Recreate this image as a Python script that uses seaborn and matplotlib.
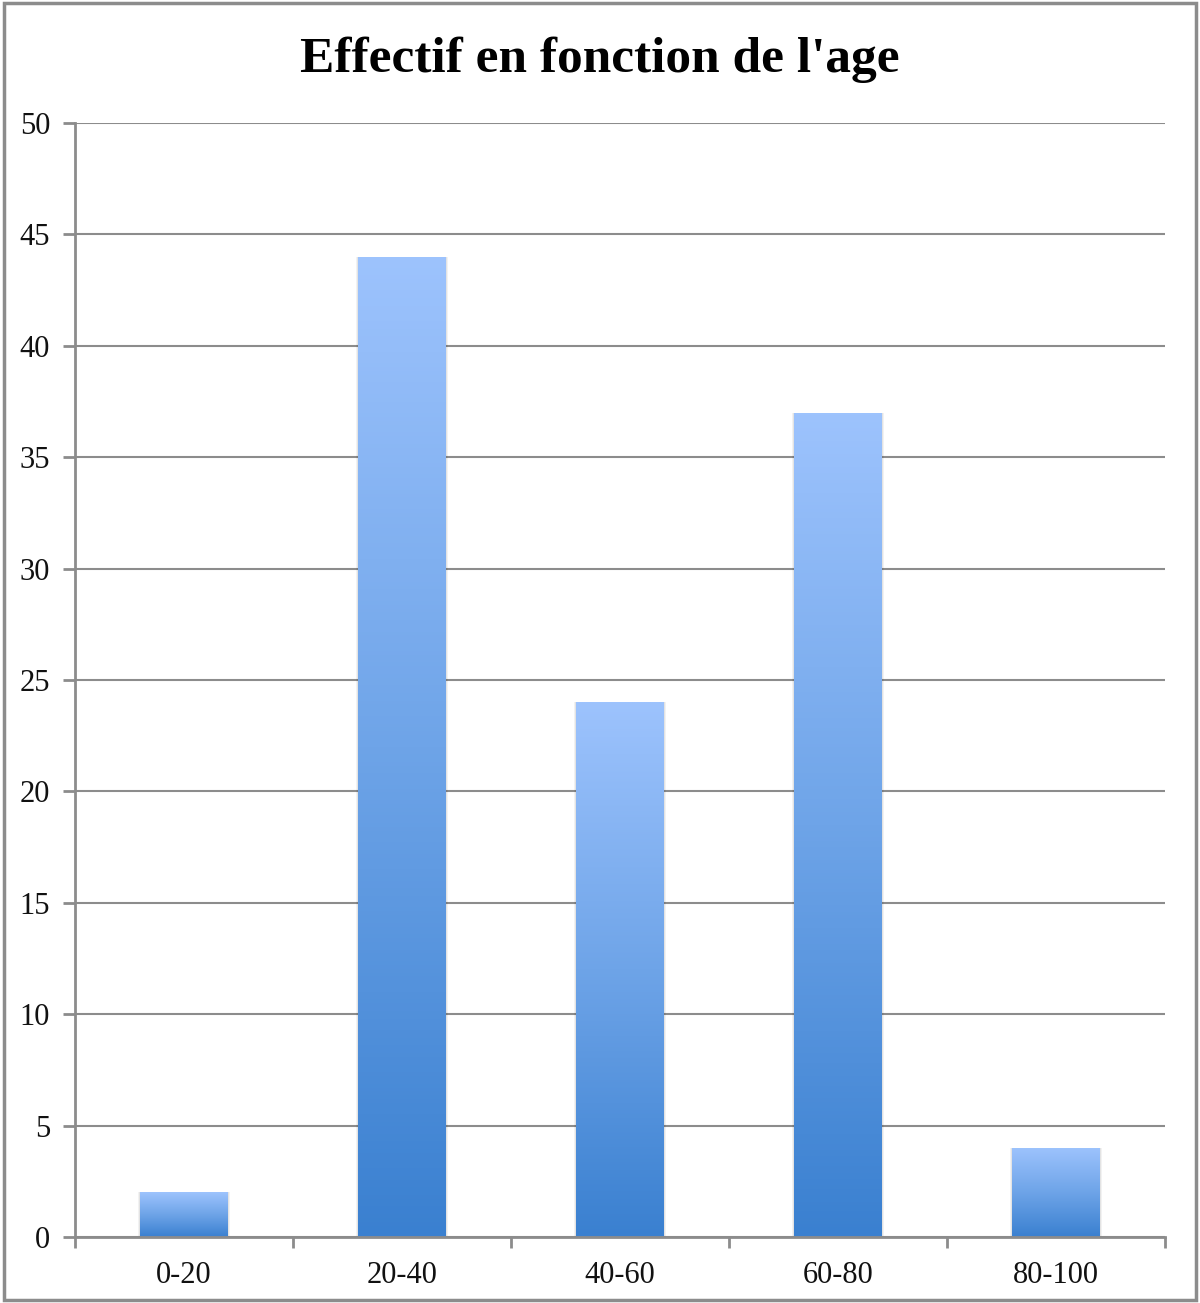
import numpy as np
import pandas as pd
import matplotlib
matplotlib.use("Agg")
import matplotlib.pyplot as plt
import seaborn as sns
from matplotlib.colors import LinearSegmentedColormap
from matplotlib.patches import Rectangle

categories = ["0-20", "20-40", "40-60", "60-80", "80-100"]
values = [2, 44, 24, 37, 4]
yticks = list(range(0, 51, 5))
title = "Effectif en fonction de l'age"

sns.set_theme(style="white")
plt.rcParams['font.family'] = ['Liberation Serif', 'DejaVu Serif']

fig = plt.figure(figsize=(12, 13.03), dpi=100)
ax = fig.add_axes([0.0625, 0.0507, 0.9083, 0.8549])

df = pd.DataFrame({"age": categories, "effectif": values})
sns.barplot(data=df, x="age", y="effectif", ax=ax, width=0.4, color="#8fb8f5",
            saturation=1, zorder=3)

ax.set_ylim(0, 50)
ax.set_xlim(-0.5, len(categories) - 0.5)

cmap = LinearSegmentedColormap.from_list("g", ["#3a80d0", "#6ea4e8", "#9dc3fd"])
grad = np.linspace(0, 1, 256).reshape(-1, 1)
for p in list(ax.patches):
    x0, y0 = p.get_x(), p.get_y()
    w, h = p.get_width(), p.get_height()
    for k, a in [(0.010, 0.05), (0.005, 0.06)]:
        sh = Rectangle((x0 - k, y0), w + 2 * k, h, facecolor="#000000",
                       alpha=a, edgecolor="none", zorder=2)
        ax.add_patch(sh)
    im = ax.imshow(grad, extent=[x0, x0 + w, y0, y0 + h], origin="lower",
                   cmap=cmap, aspect="auto", zorder=3.5)
    im.set_clip_path(p)
    p.set_facecolor("none")
    p.set_edgecolor("none")
ax.set_xlim(-0.5, len(categories) - 0.5)
ax.set_ylim(0, 50)

gc = "#8c8c8c"
ax.set_yticks(yticks)
ax.set_yticklabels([str(v) for v in yticks], fontsize=22, color="#111111")
ax.yaxis.grid(True, color=gc, linewidth=1.5, zorder=1)
ax.set_axisbelow(True)
for s in ["top", "right"]:
    ax.spines[s].set_visible(False)
for s in ["left", "bottom"]:
    ax.spines[s].set_color(gc)
    ax.spines[s].set_linewidth(2)
    ax.spines[s].set_zorder(5)

ax.set_xticks(np.arange(-0.5, len(categories), 1.0))
ax.set_xticklabels([])
ax.set_xticks(np.arange(len(categories)), minor=True)
ax.set_xticklabels(categories, minor=True, fontsize=22, color="#111111")
ax.tick_params(axis="x", which="major", direction="out", length=8, width=2, color=gc, bottom=True)
ax.tick_params(axis="x", which="minor", length=0, pad=17)
ax.tick_params(axis="y", direction="out", length=9, width=2, color=gc, left=True, pad=9)
ax.set_xlabel("")
ax.set_ylabel("")

fig.text(0.5, 0.954, title, ha="center", va="center", fontsize=37, fontweight="bold",
         color="#000000")

border = Rectangle((0.003, 0.002), 0.994, 0.996, transform=fig.transFigure,
                   fill=False, edgecolor="#8c8c8c", linewidth=2.5)
fig.patches.append(border)

fig.savefig("out.png", dpi=100, facecolor="white")
